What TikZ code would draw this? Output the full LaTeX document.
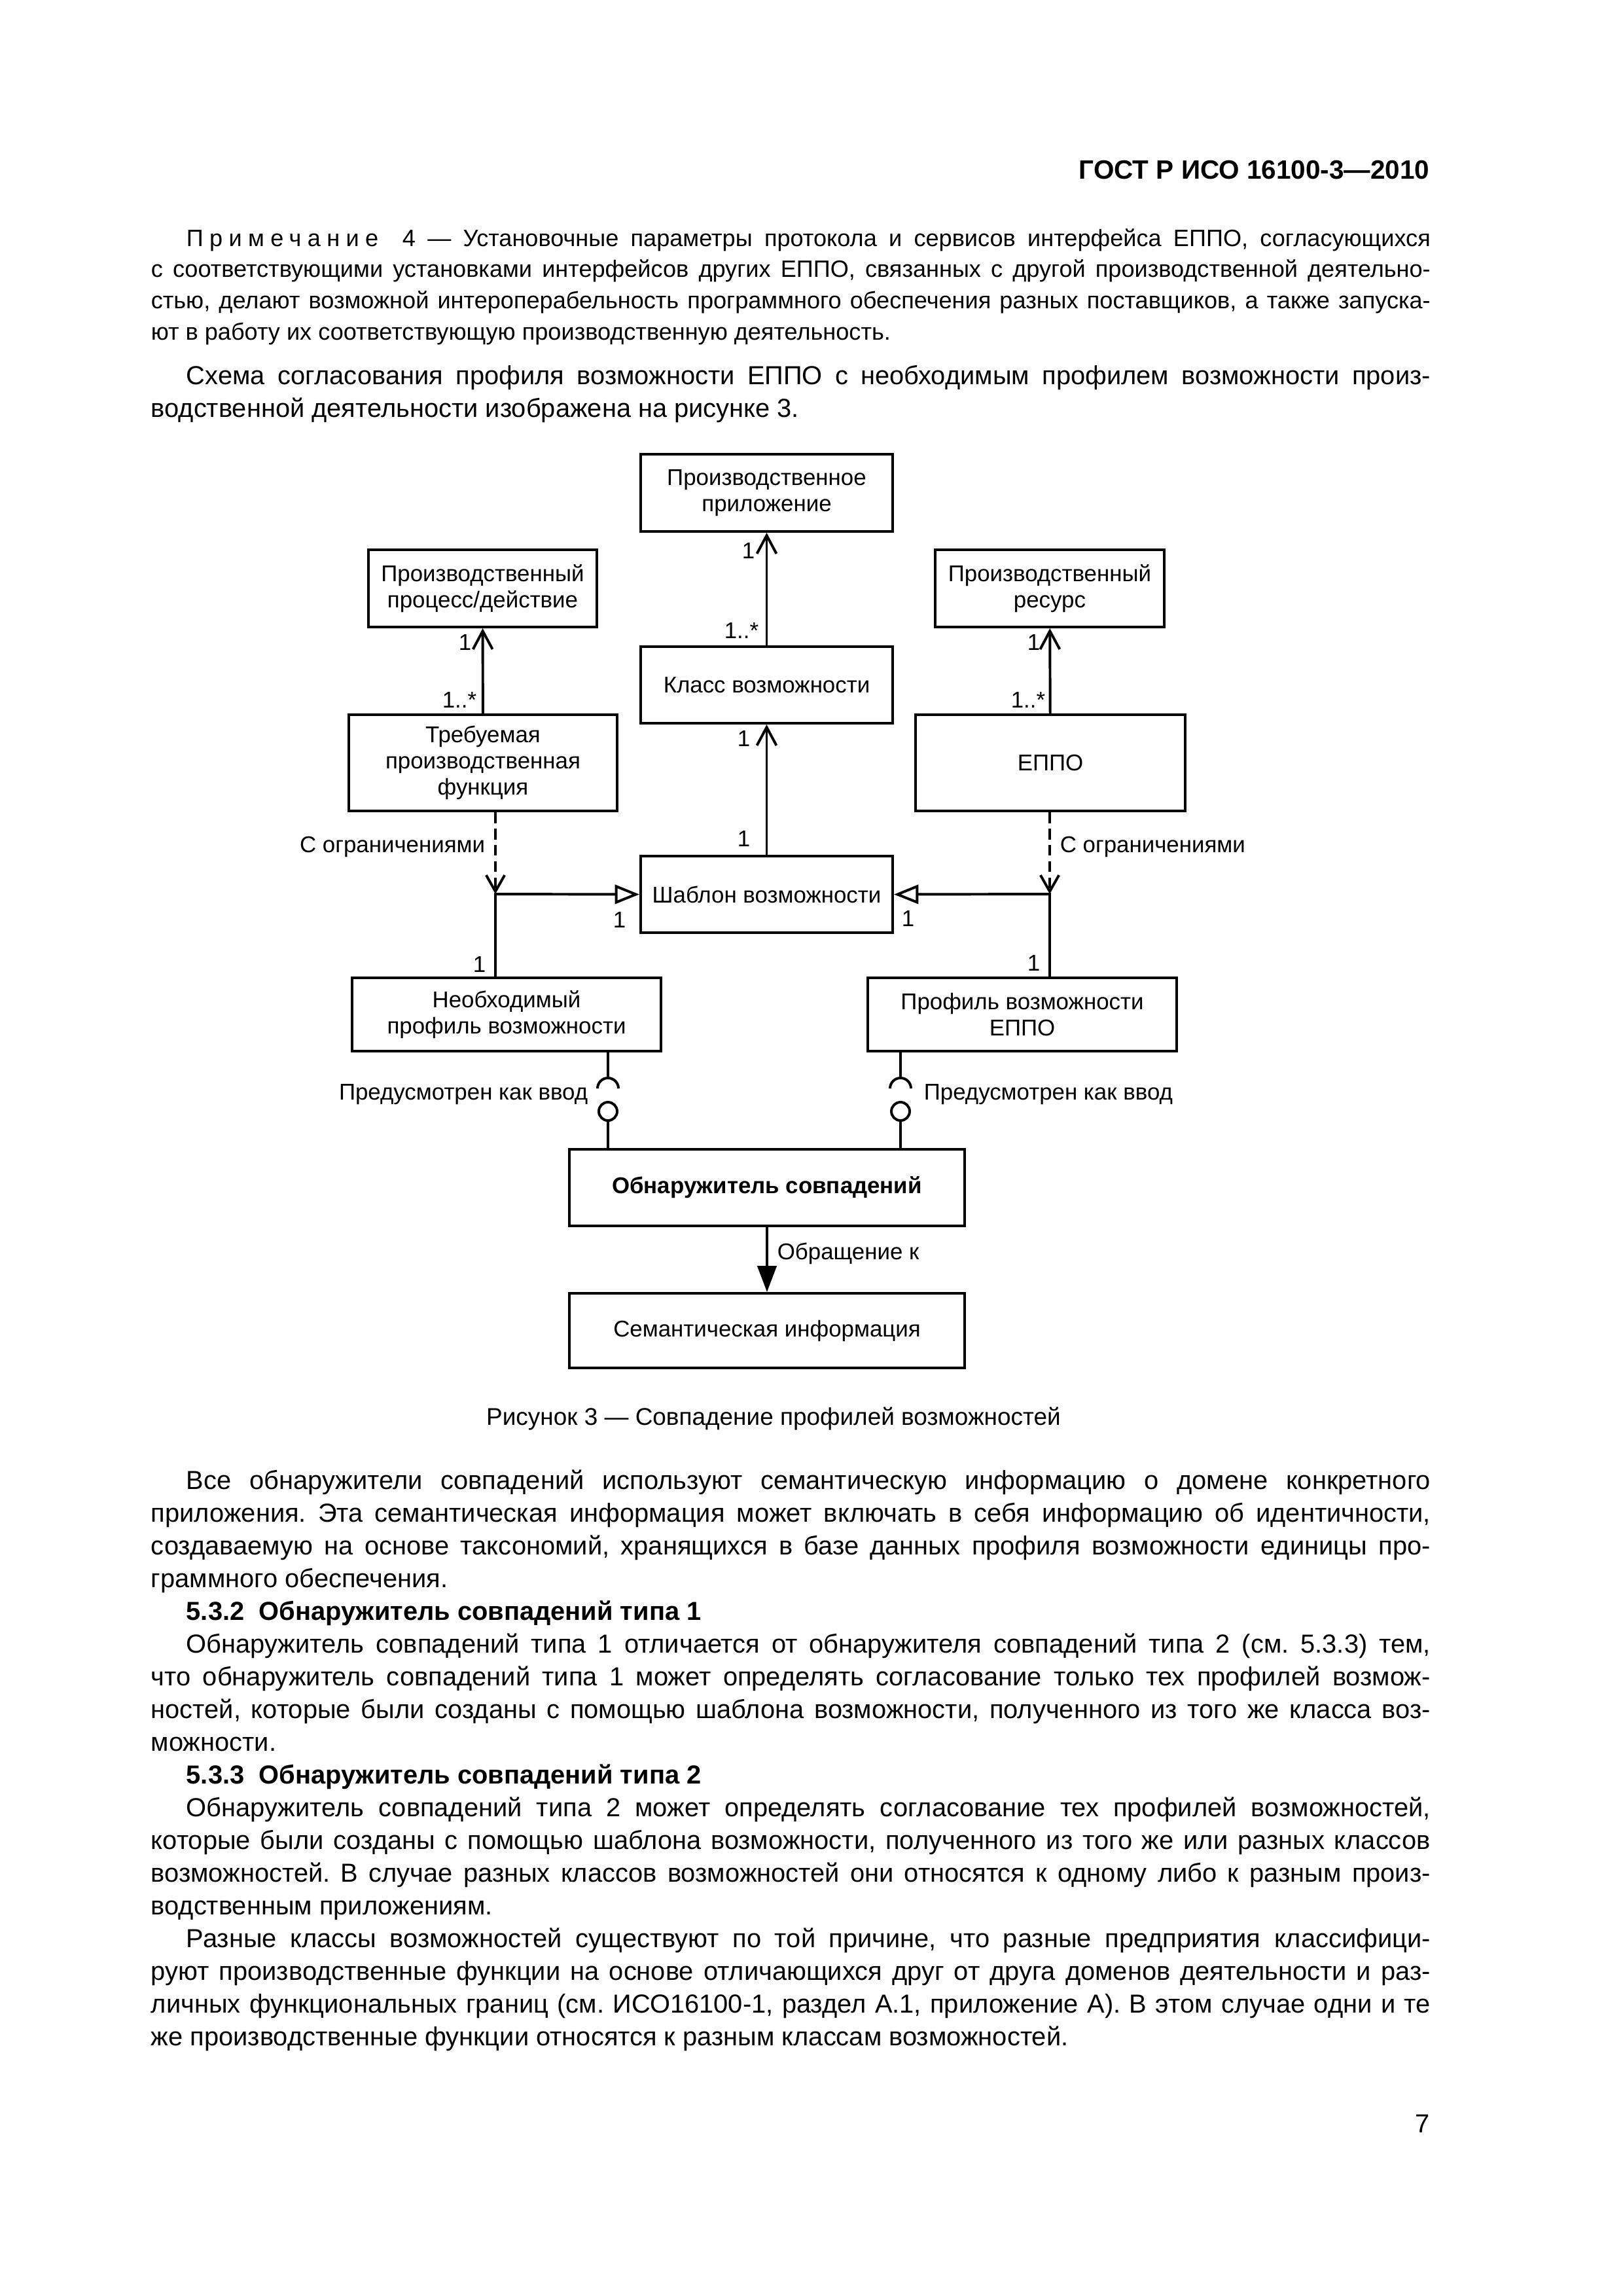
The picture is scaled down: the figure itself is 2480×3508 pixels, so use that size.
\documentclass[tikz,border=0pt]{standalone}
\usepackage{fontspec}
\setmainfont{Liberation Sans}
\usetikzlibrary{arrows.meta, positioning}
\newlength\px
\setlength\px{0.24093pt}
\newcommand\dfont{\fontsize{8.4}{9.7}\selectfont}
\newcommand\bodyfont{\fontsize{9.6}{12.05}\selectfont}
\newcommand\notefont{\fontsize{8.7}{11.5}\selectfont}
\newcommand\ind{\hspace*{54\px}}
\tolerance=10000
\hyphenpenalty=10000
\frenchspacing
\tikzstyle{block} = [rectangle, draw, line width=0.95pt, inner sep=0pt, align=center, font=\dfont]
\tikzstyle{conn} = [line width=0.95pt]
\tikzstyle{assoc} = [conn, -{Straight Barb[length=6.7pt, width=7.2pt]}]
\tikzstyle{dep} = [conn, dash pattern=on 4pt off 2pt, -{Straight Barb[length=6pt, width=6.8pt]}]
\tikzstyle{gen} = [conn, -{Triangle[open, length=9pt, width=7pt]}]
\tikzstyle{use} = [conn, -{Triangle[length=9.6pt, width=7pt]}]
\tikzstyle{ball} = [circle, draw, line width=0.95pt, inner sep=0pt, minimum size=28\px]
\tikzstyle{mult} = [font=\dfont, inner sep=0pt]
\tikzstyle{para} = [inner sep=0pt, anchor=base west, text width=1955\px, align=justify]

\begin{document}
\begin{tikzpicture}[x=\px, y=-\px]
  \useasboundingbox[fill=white] (0,0) rectangle (2480,3508);

  % page text
  \node[anchor=base east, inner sep=0pt, font=\fontsize{9.75}{12}\selectfont\bfseries] (gost) at (2185,273) {ГОСТ Р ИСО 16100-3—2010};
  \node[para, font=\notefont] (note) at (230,376) {\ind{\addfontfeature{LetterSpace=26}Примечание}\ \ 4 — Установочные параметры протокола и сервисов интерфейса ЕППО, согласующихся\linebreak
    с соответствующими установками интерфейсов других ЕППО, связанных с другой производственной деятельно-\linebreak
    стью, делают возможной интероперабельность программного обеспечения разных поставщиков, а также запуска-\linebreak
    ют в работу их соответствующую производственную деятельность.};
  \node[para, font=\bodyfont] (intro) at (230,587) {\ind Схема согласования профиля возможности ЕППО с необходимым профилем возможности произ-\linebreak
    водственной деятельности изображена на рисунке 3.};

  % diagram
  \node[block, minimum width=385\px, minimum height=118\px] (app) at (1171.5,753) {Производственное\\приложение};
  \node[block, minimum width=349\px, minimum height=118\px] (proc) at (737.5,899) {Производственный\\процесс/действие};
  \node[block, minimum width=350\px, minimum height=118\px] (res) at (1604,899) {Производственный\\ресурс};
  \node[block, minimum width=385\px, minimum height=117\px] (class) at (1171.5,1046.5) {Класс возможности};
  \node[block, minimum width=410\px, minimum height=147\px] (req) at (738,1165.5) {Требуемая\\производственная\\функция};
  \node[block, minimum width=412\px, minimum height=147\px] (eppo) at (1605,1165.5) {ЕППО};
  \node[block, minimum width=385\px, minimum height=117\px] (tmpl) at (1171.5,1366.5) {Шаблон возможности};
  \node[block, minimum width=472\px, minimum height=112\px] (need) at (774,1550) {Необходимый\\профиль возможности};
  \node[block, minimum width=472\px, minimum height=112\px] (prof) at (1562,1550) {Профиль возможности\\ЕППО};
  \node[block, minimum width=604\px, minimum height=117\px, font=\dfont\bfseries] (match) at (1172,1814.5) {Обнаружитель совпадений};
  \node[block, minimum width=604\px, minimum height=114\px] (sem) at (1172,2033) {Семантическая информация};

  \coordinate (jl) at (757,1366);
  \coordinate (jr) at (1604,1366);
  \coordinate (sl) at (929,1647);
  \coordinate (sr) at (1376,1647);
  \node[ball] (bl) at (929,1698) {};
  \node[ball] (br) at (1376,1698) {};

  \draw[assoc] (class) -- (app);
  \draw[assoc] (req) -- (proc);
  \draw[assoc] (eppo) -- (res);
  \draw[assoc] (tmpl) -- (class);
  \draw[dep] (req.south -| jl) -- node[pos=0.42, left, font=\dfont] {С ограничениями} (jl);
  \draw[dep] (eppo.south -| jr) -- node[pos=0.42, right, font=\dfont] {С ограничениями} (jr);
  \draw[gen] (need.north -| jl) -- (jl) -- (tmpl.west);
  \draw[gen] (prof.north -| jr) -- (jr) -- (tmpl.east);
  \draw[conn] (need.south -| sl) -- (sl) ++(-16,16) arc[start angle=180, end angle=360, radius=16];
  \draw[conn] (prof.south -| sr) -- (sr) ++(-16,16) arc[start angle=180, end angle=360, radius=16];
  \draw[conn] (bl) -- (match.north -| bl);
  \draw[conn] (br) -- (match.north -| br);
  \draw[use] (match) -- node[pos=0.41, right, font=\dfont] {Обращение к} (sem);

  \node[font=\dfont, anchor=base east, inner sep=0pt] at (899,1680) {Предусмотрен как ввод};
  \node[font=\dfont, anchor=base west, inner sep=0pt] at (1411,1680) {Предусмотрен как ввод};

  % multiplicities
  \node[mult, anchor=base east] at (1154,853) {1};
  \node[mult, anchor=base east] at (1160,975) {1..*};
  \node[mult, anchor=base east] at (721,993) {1};
  \node[mult, anchor=base east] at (729,1081) {1..*};
  \node[mult, anchor=base east] at (1590,993) {1};
  \node[mult, anchor=base east] at (1598,1081) {1..*};
  \node[mult, anchor=base east] at (1147,1140) {1};
  \node[mult, anchor=base east] at (1147,1293) {1};
  \node[mult, anchor=base east] at (957,1417) {1};
  \node[mult, anchor=base east] at (1398,1415) {1};
  \node[mult, anchor=base east] at (743,1485) {1};
  \node[mult, anchor=base east] at (1590,1483) {1};

  \node[anchor=base, inner sep=0pt, font=\fontsize{8.9}{11}\selectfont] (caption) at (1182,2177) {Рисунок 3 — Совпадение профилей возможностей};

  \node[para, font=\bodyfont] (body) at (230,2275) {\ind Все обнаружители совпадений используют семантическую информацию о домене конкретного\linebreak
    приложения. Эта семантическая информация может включать в себя информацию об идентичности,\linebreak
    создаваемую на основе таксономий, хранящихся в базе данных профиля возможности единицы про-\linebreak
    граммного обеспечения.\par
    \ind\textbf{5.3.2\ \ Обнаружитель совпадений типа 1}\par
    \ind Обнаружитель совпадений типа 1 отличается от обнаружителя совпадений типа 2 (см. 5.3.3) тем,\linebreak
    что обнаружитель совпадений типа 1 может определять согласование только тех профилей возмож-\linebreak
    ностей, которые были созданы с помощью шаблона возможности, полученного из того же класса воз-\linebreak
    можности.\par
    \ind\textbf{5.3.3\ \ Обнаружитель совпадений типа 2}\par
    \ind Обнаружитель совпадений типа 2 может определять согласование тех профилей возможностей,\linebreak
    которые были созданы с помощью шаблона возможности, полученного из того же или разных классов\linebreak
    возможностей. В случае разных классов возможностей они относятся к одному либо к разным произ-\linebreak
    водственным приложениям.\par
    \ind Разные классы возможностей существуют по той причине, что разные предприятия классифици-\linebreak
    руют производственные функции на основе отличающихся друг от друга доменов деятельности и раз-\linebreak
    личных функциональных границ (см. ИСО16100-1, раздел А.1, приложение А). В этом случае одни и те\linebreak
    же производственные функции относятся к разным классам возможностей.};

  \node[anchor=base east, inner sep=0pt, font=\bodyfont] (pagenum) at (2185,3258) {7};
\end{tikzpicture}
\end{document}
